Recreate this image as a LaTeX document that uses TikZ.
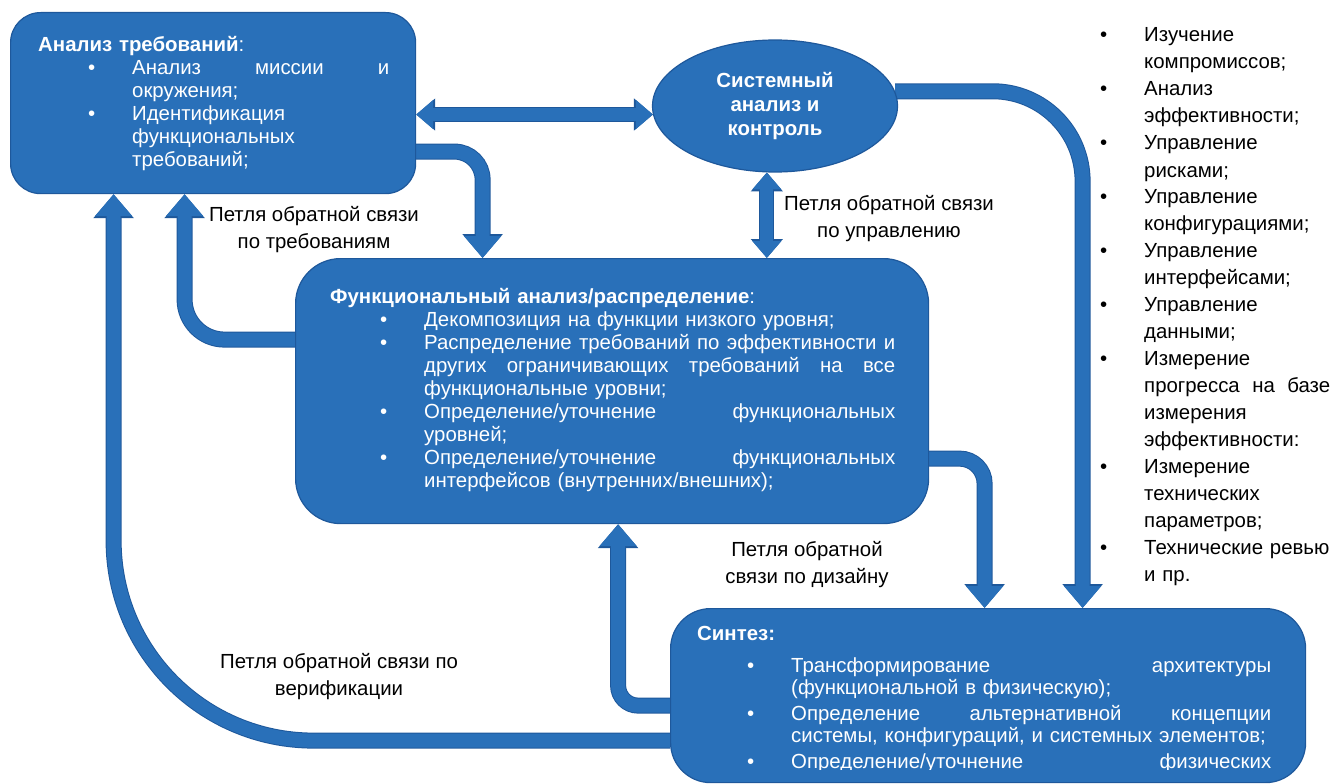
\documentclass[tikz,border=0pt]{standalone}
\usepackage{fontspec}
\setmainfont{Liberation Sans}
\usetikzlibrary{arrows.meta,shapes.geometric,backgrounds}

\definecolor{boxblue}{RGB}{41,112,185}
\definecolor{edgeblue}{RGB}{30,88,155}

\newcommand{\bitem}[1][50pt]{\makebox[\dimexpr#1+44pt\relax][l]{\hspace*{#1}\textbullet}}
\newcommand{\bcont}[1][50pt]{\hspace*{\dimexpr#1+44pt\relax}}
\newcommand{\jst}[2]{\makebox[#1][s]{\spaceskip=0pt\relax#2}}

\begin{document}
\begin{tikzpicture}[x=1pt,y=-1pt,
    blk/.style={draw=edgeblue,line width=1.2pt,fill=boxblue,inner sep=0pt},
    intxt/.style={text=white,align=left,inner sep=0pt,anchor=base west,font=\fontsize{20.4}{23}\selectfont},
    lbl/.style={align=center,inner sep=0pt,font=\fontsize{20.4}{27}\selectfont},
    fat/.style={draw=boxblue,line width=14pt,-{Triangle[width=36pt,length=22pt]},
      preaction={draw=edgeblue,line width=16pt,-{Triangle[width=39pt,length=24pt]}}},
    dbl/.style={draw=boxblue,line width=13pt,{Triangle[width=28pt,length=17pt]}-{Triangle[width=28pt,length=17pt]},
      preaction={draw=edgeblue,line width=15pt,{Triangle[width=31pt,length=19pt]}-{Triangle[width=31pt,length=19pt]}}}]

\useasboundingbox (0,0) rectangle (1336,784);

% blocks
\node[blk,rounded corners=30pt,minimum width=405pt,minimum height=181pt,anchor=north west] (req) at (10,12) {};
\node[blk,ellipse,minimum width=245pt,minimum height=132pt,text=white,align=center,font=\fontsize{20.4}{24}\selectfont\bfseries] (sys) at (775,106) {Системный\\анализ и\\контроль};
\node[blk,rounded corners=45pt,minimum width=633pt,minimum height=265pt,anchor=north west] (func) at (295,258) {};
\node[blk,rounded corners=40pt,minimum width=635pt,minimum height=174pt,anchor=north west] (synth) at (670,608) {};

% text in blocks
\node[intxt,text width=349pt] (reqtxt) at (38,52) {\textbf{Анализ требований}:\\
  \bitem\jst{257pt}{Анализ миссии и}\\
  \bcont окружения;\\
  \bitem Идентификация\\
  \bcont функциональных\\
  \bcont требований;};
\node[intxt,text width=565pt] (functxt) at (330,303) {\textbf{Функциональный анализ/распределение}:\\
  \bitem Декомпозиция на функции низкого уровня;\\
  \bitem\jst{471pt}{Распределение требований по эффективности и}\\
  \bcont\jst{471pt}{других ограничивающих требований на все}\\
  \bcont функциональные уровни;\\
  \bitem\jst{471pt}{Определение/уточнение функциональных}\\
  \bcont уровней;\\
  \bitem\jst{471pt}{Определение/уточнение функциональных}\\
  \bcont интерфейсов (внутренних/внешних);};
\begin{scope}
  \clip (670,600) rectangle (1310,769);
  \node[intxt,text width=576pt,font=\fontsize{20.4}{22}\selectfont] (synthtxt) at (697,640) {\textbf{Синтез:}\\[10pt]
    \bitem\jst{480pt}{Трансформирование архитектуры}\\
    \bcont (функциональной в физическую);\\[4pt]
    \bitem\jst{480pt}{Определение альтернативной концепции}\\
    \bcont системы, конфигураций, и системных элементов;\\[4pt]
    \bitem\jst{480pt}{Определение/уточнение физических}};
\end{scope}

% list on the right
\node[intxt,text=black,text width=232pt,font=\fontsize{20.4}{27}\selectfont] (tasks) at (1100,42) {%
  \bitem[0pt]Изучение\\ \bcont[0pt]компромиссов;\\
  \bitem[0pt]Анализ\\ \bcont[0pt]эффективности;\\
  \bitem[0pt]Управление\\ \bcont[0pt]рисками;\\
  \bitem[0pt]Управление\\ \bcont[0pt]конфигурациями;\\
  \bitem[0pt]Управление\\ \bcont[0pt]интерфейсами;\\
  \bitem[0pt]Управление\\ \bcont[0pt]данными;\\
  \bitem[0pt]Измерение\\ \bcont[0pt]\jst{186pt}{прогресса на базе}\\ \bcont[0pt]измерения\\ \bcont[0pt]эффективности:\\
  \bitem[0pt]Измерение\\ \bcont[0pt]технических\\ \bcont[0pt]параметров;\\
  \bitem[0pt]Технические ревью\\ \bcont[0pt]и пр.};

% loop labels
\node[lbl] (reqloop) at (314,230) {Петля обратной связи\\по требованиям};
\node[lbl] (ctlloop) at (889,219) {Петля обратной связи\\по управлению};
\node[lbl] (desloop) at (807,565) {Петля обратной\\связи по дизайну};
\node[lbl] (verloop) at (339,677) {Петля обратной связи по\\верификации};

% connectors
\begin{scope}[on background layer]
  \draw[dbl] (sys.184 -| req.east) -- (sys.184);
  \draw[dbl] (sys.263) -- (sys.263 |- func.north);
  \draw[fat,rounded corners=28pt] ([yshift=-48.5pt]req.east) -| ([xshift=-129.5pt]func.north);
  \draw[fat,rounded corners=40pt] ([yshift=51.5pt]func.west) -| ([xshift=-28.5pt]req.south);
  \draw[fat,rounded corners=200pt] ([yshift=-45pt]synth.west) -| ([xshift=-99.5pt]req.south);
  \draw[fat,rounded corners=20pt] ([yshift=-10pt]synth.west) -| ([xshift=6pt]func.south);
  \draw[fat,rounded corners=25pt] ([yshift=-67.5pt]func.east) -| ([xshift=-3.5pt]synth.north);
  \draw[fat,rounded corners=90pt] (sys.7) -| ([xshift=94.5pt]synth.north);
\end{scope}
\end{tikzpicture}
\end{document}
